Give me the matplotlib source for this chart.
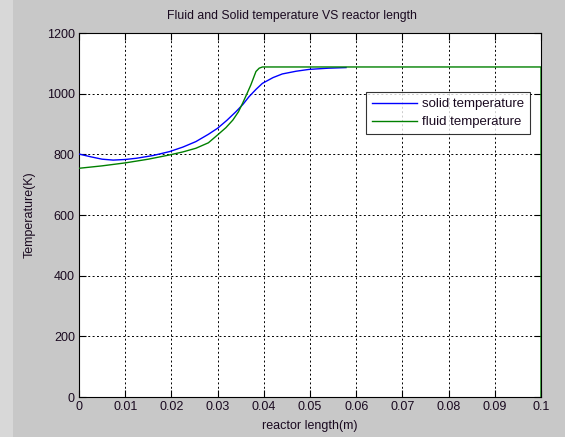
import matplotlib
matplotlib.use("Agg")
import matplotlib.pyplot as plt
from matplotlib.patches import Rectangle
import numpy as np

plt.rcParams['font.family'] = ['Liberation Sans', 'DejaVu Sans']

solid_x = [0.0, 0.0025, 0.005, 0.0074, 0.0100, 0.0124, 0.0160, 0.0196, 0.0225, 0.0253, 0.0280, 0.0300,
           0.0320, 0.0340, 0.0355, 0.0368, 0.0383, 0.0397, 0.0420, 0.0440, 0.0470, 0.0498, 0.0540, 0.0578]
solid_T = [801, 792, 784, 781, 783, 787, 796, 809, 824, 842, 866, 886,
           912, 941, 965, 990, 1014, 1034, 1053, 1065, 1074, 1080, 1084, 1086]

fluid_x = [0.0, 0.005, 0.0101, 0.015, 0.0196, 0.0225, 0.0253, 0.0280, 0.0300, 0.0318, 0.0333, 0.0345,
           0.0354, 0.0363, 0.0372, 0.0378, 0.0383, 0.0390, 0.0397, 0.0420, 0.0600, 0.0800, 0.1000, 0.1000]
fluid_T = [754, 762, 772, 784, 798, 808, 820, 838, 864, 888, 913, 940,
           968, 998, 1029, 1053, 1073, 1084, 1088, 1088, 1088, 1088, 1088, 0]

xticks = [0, 0.01, 0.02, 0.03, 0.04, 0.05, 0.06, 0.07, 0.08, 0.09, 0.1]
xticklabels = ['0', '0.01', '0.02', '0.03', '0.04', '0.05', '0.06', '0.07', '0.08', '0.09', '0.1']
yticks = [0, 200, 400, 600, 800, 1000, 1200]

txt = '#1a0a20'
fs = 9

fig = plt.figure(figsize=(5.65, 4.37), dpi=100, facecolor='#c8c8c8')
fig.patches.append(Rectangle((0, 0), 13/565, 1, transform=fig.transFigure,
                             facecolor='#d8d8d8', edgecolor='none', zorder=-1))
ax = fig.add_axes([79/565, 1 - 397/437, (541-79)/565, (397-33)/437])
ax.set_facecolor('white')

ax.plot(solid_x, solid_T, color='#0000ff', lw=1.0, label='solid temperature', zorder=3)
ax.plot(fluid_x, fluid_T, color='#008000', lw=1.0, label='fluid temperature', zorder=3)

ax.set_xlim(0, 0.1)
ax.set_ylim(0, 1200)
ax.set_xticks(xticks)
ax.set_xticklabels(xticklabels)
ax.set_yticks(yticks)
ax.tick_params(direction='in', length=5, width=0.8, top=True, right=True, labelsize=fs, pad=3,
               labelcolor=txt)
ax.grid(True, color='black', linestyle=(0, (2, 2.5)), linewidth=0.7)
for s in ax.spines.values():
    s.set_linewidth(0.8)

fig.text(292/565, 1 - 16/437, 'Fluid and Solid temperature VS reactor length', fontsize=8.8,
         color=txt, ha='center', va='center')
ax.set_xlabel('reactor length(m)', fontsize=fs, labelpad=5, color=txt)
ax.set_ylabel('Temperature(K)', fontsize=fs, labelpad=8, color=txt)

leg = ax.legend(loc='upper right', bbox_to_anchor=(0.976, 0.838), fontsize=9.5, frameon=True,
                fancybox=False, edgecolor='black', handlelength=3.4, handletextpad=0.35,
                borderpad=0.45, labelspacing=0.45, borderaxespad=0)
leg.get_frame().set_linewidth(0.8)
for t in leg.get_texts():
    t.set_color(txt)

fig.savefig('out.png', dpi=100, facecolor=fig.get_facecolor())
